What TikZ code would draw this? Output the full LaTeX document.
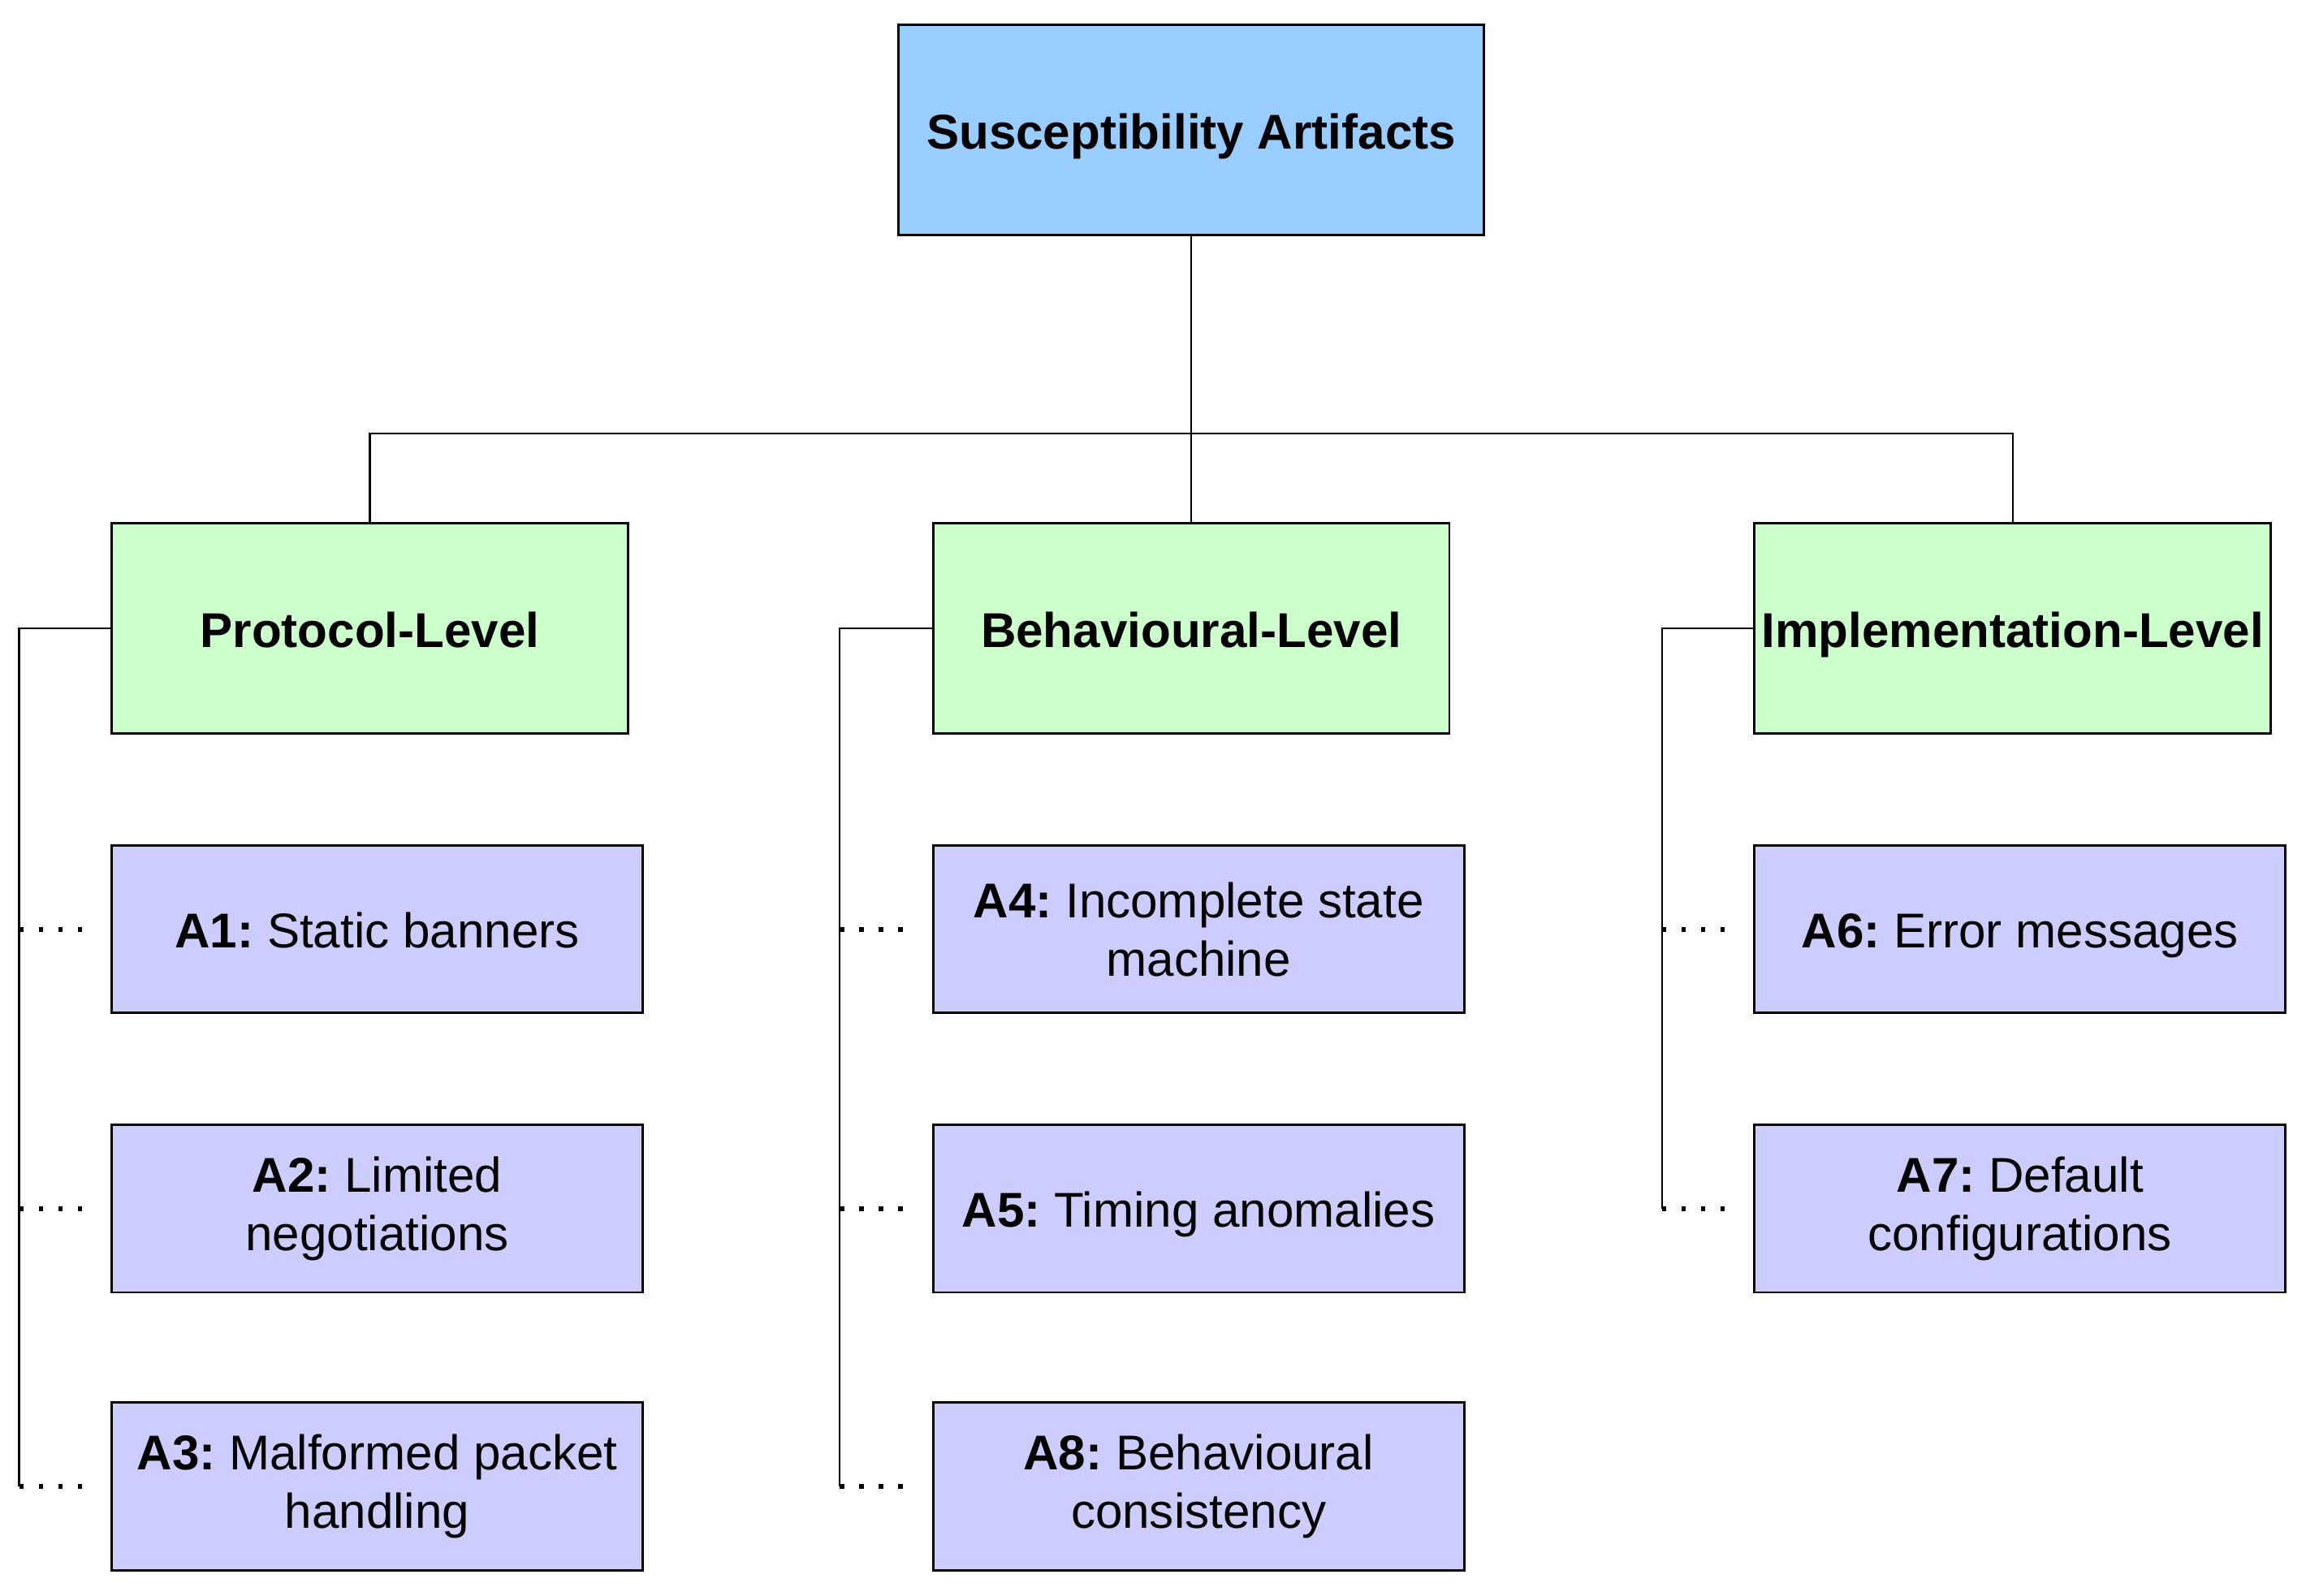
\documentclass[tikz,border=0pt]{standalone}
\usepackage{fontspec}
\setmainfont{Liberation Sans}
\frenchspacing
\begin{document}
\begin{tikzpicture}[x=0.1mm,y=-0.1mm,
  box/.style={draw=black,line width=0.45pt,align=center,inner sep=0pt,
    font=\fontsize{9.45}{11.3}\selectfont},
  single/.style={text height=0.72em,text depth=0pt},
  topbox/.style={box,single,fill=topblue,minimum width=3.98cm,minimum height=1.43cm,font=\fontsize{9.45}{11.3}\selectfont\bfseries},
  levelbox/.style={box,single,fill=levelgreen,minimum width=3.51cm,minimum height=1.43cm,font=\fontsize{9.45}{11.3}\selectfont\bfseries},
  leafbox/.style={box,fill=leafpurple,minimum width=3.61cm,minimum height=1.14cm},
  conn/.style={draw=black,line width=0.35pt},
  dotline/.style={draw=black,line width=0.9pt,dash pattern=on 0.9pt off 2.87pt,shorten >=0.1cm}
]
\definecolor{topblue}{HTML}{99CCFF}
\definecolor{levelgreen}{HTML}{CCFFCC}
\definecolor{leafpurple}{HTML}{CCCCFF}
\useasboundingbox (0,0) rectangle (1568,1085);

\node[topbox] (top) at (810,88.5) {Susceptibility Artifacts};

\node[levelbox] (prot) at (251.5,427.5) {Protocol-Level};
\node[levelbox] (beh) at (810,427.5) {Behavioural-Level};
\node[levelbox] (impl) at (1368.5,427.5) {Implementation-Level};

\node[leafbox,single] (a1) at (256.5,632) {\textbf{A1:} Static banners};
\node[leafbox] (a2) at (256.5,822) {\textbf{A2:} Limited\\negotiations};
\node[leafbox] (a3) at (256.5,1011) {\textbf{A3:} Malformed packet\\handling};
\node[leafbox] (a4) at (815,632) {\textbf{A4:} Incomplete state\\machine};
\node[leafbox,single] (a5) at (815,822) {\textbf{A5:} Timing anomalies};
\node[leafbox] (a8) at (815,1011) {\textbf{A8:} Behavioural\\consistency};
\node[leafbox,single] (a6) at (1373.5,632) {\textbf{A6:} Error messages};
\node[leafbox] (a7) at (1373.5,822) {\textbf{A7:} Default\\configurations};

\coordinate (bus) at (810,295);
\coordinate (pend) at (13,1011);
\coordinate (bend) at (571,1011);
\coordinate (iend) at (1130,822);

\draw[conn] (top.south) -- (beh.north);
\draw[conn] (prot.north) |- (bus) -| (impl.north);

\draw[conn] (prot.west) -| (pend);
\draw[conn] (beh.west) -| (bend);
\draw[conn] (impl.west) -| (iend);

\draw[dotline] (pend |- a1.west) -- (a1.west);
\draw[dotline] (pend |- a2.west) -- (a2.west);
\draw[dotline] (pend |- a3.west) -- (a3.west);
\draw[dotline] (bend |- a4.west) -- (a4.west);
\draw[dotline] (bend |- a5.west) -- (a5.west);
\draw[dotline] (bend |- a8.west) -- (a8.west);
\draw[dotline] (iend |- a6.west) -- (a6.west);
\draw[dotline] (iend |- a7.west) -- (a7.west);
\end{tikzpicture}
\end{document}
